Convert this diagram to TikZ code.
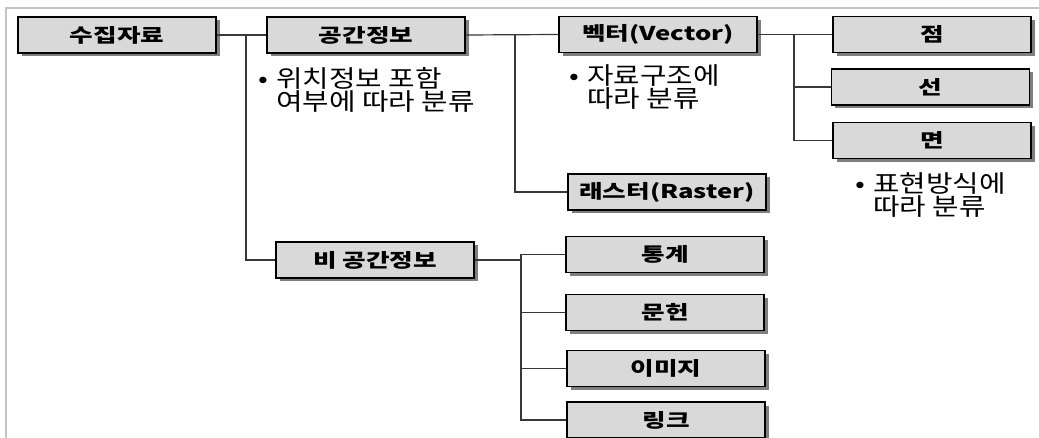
\documentclass[tikz,border=0pt]{standalone}
\usepackage{fontspec}
\usepackage{graphicx}
\setmainfont{Noto Sans CJK KR}
\usetikzlibrary{shadows}
\definecolor{boxgray}{HTML}{D9D9D9}
\definecolor{shadowgray}{HTML}{7F7F7F}
\definecolor{linegray}{HTML}{383838}
\definecolor{framegray}{HTML}{C4C4C4}
\newcommand{\boxlabel}[1]{\scalebox{1.35}[1]{#1}}
\newcommand{\notelabel}[1]{\scalebox{1.2}[1]{#1}}
\newcommand{\notebullet}{\llap{\notelabel{•}\hspace{8pt}}}
\tikzset{
  box/.style={draw=black, line width=1.2pt, fill=boxgray,
    minimum width=198pt, minimum height=36pt, inner sep=0pt,
    font=\fontsize{19}{22}\selectfont\bfseries,
    drop shadow={shadow xshift=3.5pt, shadow yshift=-3.5pt, fill=shadowgray, opacity=1}},
  note/.style={anchor=west, align=left, inner sep=0pt,
    font=\fontsize{24}{23}\selectfont},
  conn/.style={draw=linegray, line width=1.2pt},
  frame/.style={draw=framegray, line width=1.4pt}
}
\begin{document}
\begin{tikzpicture}[x=1pt, y=-1pt]
\useasboundingbox (0,0) rectangle (1039,438);
\coordinate (f1) at (6,438);
\coordinate (f2) at (6,8);
\coordinate (f3) at (1039,8);
\draw[frame] (f1) -- (f2) -- (f3);

\node[box] (a) at (117,35) {\boxlabel{수집자료}};
\node[box] (b) at (366,35) {\boxlabel{공간정보}};
\node[box] (c) at (658,34.5) {\boxlabel{벡터(Vector)}};
\node[box] (d) at (932,34.5) {\boxlabel{점}};
\node[box] (e) at (930.5,87) {\boxlabel{선}};
\node[box] (f) at (932,140.5) {\boxlabel{면}};
\node[box] (g) at (667,192) {\boxlabel{래스터(Raster)}};
\node[box] (h) at (375,260) {\boxlabel{비 공간정보}};
\node[box] (i) at (665,254.5) {\boxlabel{통계}};
\node[box] (j) at (665,312.5) {\boxlabel{문헌}};
\node[box] (k) at (666,368.5) {\boxlabel{이미지}};
\node[box] (l) at (666,420) {\boxlabel{링크}};

\node[note] (n1) at (276,90) {\notebullet\notelabel{위치정보 포함}\\\notelabel{여부에 따라 분류}};
\node[note] (n2) at (587,87) {\notebullet\notelabel{자료구조에}\\\notelabel{따라 분류}};
\node[note] (n3) at (873,195) {\notebullet\notelabel{표현방식에}\\\notelabel{따라 분류}};

\coordinate (j1) at (246,35);
\coordinate (j2) at (515,35);
\coordinate (j3) at (794,34.5);
\coordinate (j4) at (521,260);

\draw[conn] (a.east) -- (b.west);
\draw[conn] (j1) |- (h.west);
\draw[conn] (b.east) -- (c.west);
\draw[conn] (j2) |- (g.west);
\draw[conn] (c.east) -- (d.west);
\draw[conn] (j3) |- (e.west);
\draw[conn] (j3) |- (f.west);
\draw[conn] (h.east) -- (j4);
\draw[conn] (i.west) -| (j4);
\draw[conn] (j4) |- (j.west);
\draw[conn] (j4) |- (k.west);
\draw[conn] (j4) |- (l.west);
\end{tikzpicture}
\end{document}
